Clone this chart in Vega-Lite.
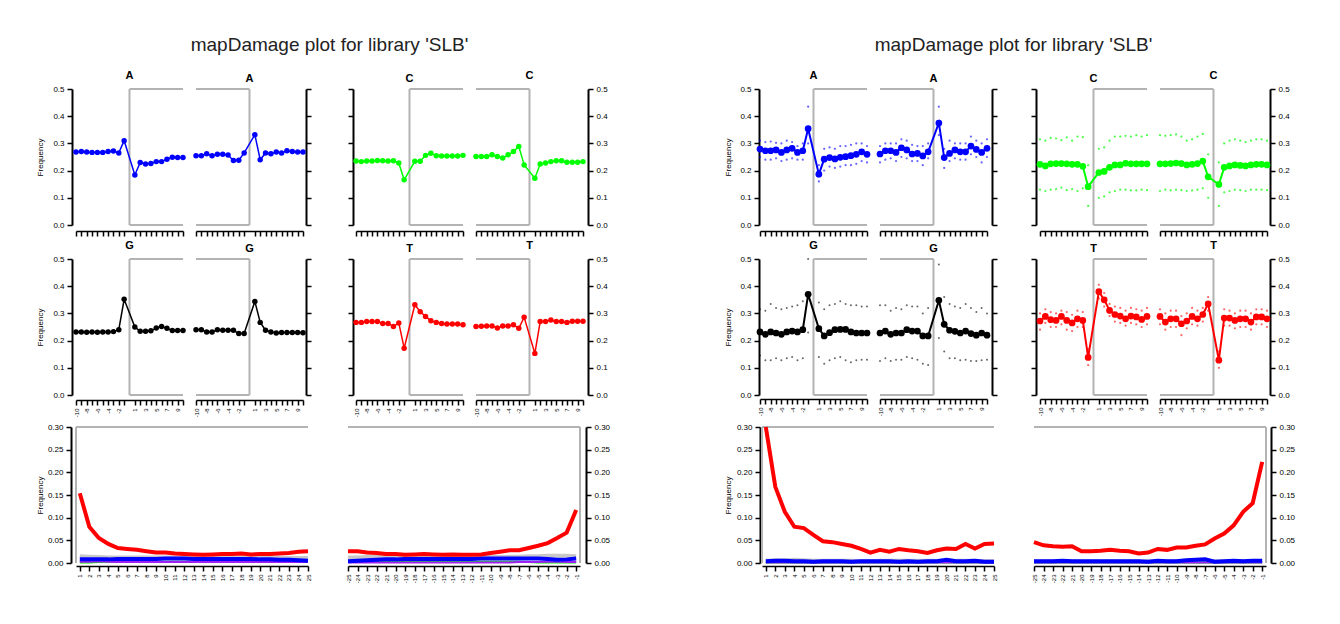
{
"$schema": "https://vega.github.io/schema/vega-lite/v6.json",
"background": "white",
"padding": {"left": 36, "top": 36, "right": 5, "bottom": 5},
"config": {
  "font": "Liberation Sans",
  "view": {"stroke": null},
  "title": {"fontSize": 11, "fontWeight": "bold", "offset": 4, "anchor": "middle", "frame": "group", "color": "#000000", "font": "Liberation Sans"},
  "axis": {"grid": false, "domainColor": "#000000", "tickColor": "#000000", "tickWidth": 1.5, "tickSize": 5, "labelColor": "#000000", "titleColor": "#000000", "titleFontWeight": "normal", "titleFontSize": 8, "labelFont": "Liberation Sans", "titleFont": "Liberation Sans", "labelOverlap": false, "labelFlush": false, "labelBound": false},
  "axisX": {"labelAngle": -90, "labelFontSize": 6, "domainWidth": 1.5, "labelPadding": 3},
  "axisY": {"labelFontSize": 8, "domainWidth": 2, "labelPadding": 3}
},
"datasets": {
  "compL": [
    {"e":5,"p":-10,"A":0.268,"C":0.235,"G":0.232,"T":0.267},
    {"e":5,"p":-9,"A":0.270,"C":0.233,"G":0.232,"T":0.267},
    {"e":5,"p":-8,"A":0.268,"C":0.235,"G":0.231,"T":0.270},
    {"e":5,"p":-7,"A":0.267,"C":0.235,"G":0.232,"T":0.270},
    {"e":5,"p":-6,"A":0.267,"C":0.237,"G":0.231,"T":0.270},
    {"e":5,"p":-5,"A":0.267,"C":0.236,"G":0.232,"T":0.263},
    {"e":5,"p":-4,"A":0.270,"C":0.235,"G":0.232,"T":0.263},
    {"e":5,"p":-3,"A":0.272,"C":0.236,"G":0.233,"T":0.252},
    {"e":5,"p":-2,"A":0.265,"C":0.228,"G":0.240,"T":0.265},
    {"e":5,"p":-1,"A":0.310,"C":0.166,"G":0.352,"T":0.172},
    {"e":5,"p":1,"A":0.184,"C":0.234,"G":0.250,"T":0.332},
    {"e":5,"p":2,"A":0.230,"C":0.234,"G":0.234,"T":0.306},
    {"e":5,"p":3,"A":0.224,"C":0.256,"G":0.234,"T":0.289},
    {"e":5,"p":4,"A":0.226,"C":0.264,"G":0.236,"T":0.273},
    {"e":5,"p":5,"A":0.233,"C":0.255,"G":0.246,"T":0.267},
    {"e":5,"p":6,"A":0.233,"C":0.254,"G":0.252,"T":0.263},
    {"e":5,"p":7,"A":0.242,"C":0.254,"G":0.245,"T":0.261},
    {"e":5,"p":8,"A":0.249,"C":0.254,"G":0.237,"T":0.261},
    {"e":5,"p":9,"A":0.248,"C":0.254,"G":0.237,"T":0.261},
    {"e":5,"p":10,"A":0.248,"C":0.256,"G":0.237,"T":0.258},
    {"e":3,"p":-10,"A":0.255,"C":0.252,"G":0.240,"T":0.252},
    {"e":3,"p":-9,"A":0.255,"C":0.252,"G":0.240,"T":0.253},
    {"e":3,"p":-8,"A":0.262,"C":0.252,"G":0.232,"T":0.254},
    {"e":3,"p":-7,"A":0.255,"C":0.258,"G":0.232,"T":0.254},
    {"e":3,"p":-6,"A":0.260,"C":0.252,"G":0.240,"T":0.246},
    {"e":3,"p":-5,"A":0.260,"C":0.246,"G":0.238,"T":0.254},
    {"e":3,"p":-4,"A":0.257,"C":0.258,"G":0.238,"T":0.254},
    {"e":3,"p":-3,"A":0.237,"C":0.270,"G":0.238,"T":0.258},
    {"e":3,"p":-2,"A":0.238,"C":0.289,"G":0.226,"T":0.245},
    {"e":3,"p":-1,"A":0.265,"C":0.221,"G":0.226,"T":0.286},
    {"e":3,"p":1,"A":0.332,"C":0.172,"G":0.344,"T":0.153},
    {"e":3,"p":2,"A":0.240,"C":0.224,"G":0.267,"T":0.270},
    {"e":3,"p":3,"A":0.265,"C":0.228,"G":0.238,"T":0.270},
    {"e":3,"p":4,"A":0.262,"C":0.233,"G":0.232,"T":0.276},
    {"e":3,"p":5,"A":0.268,"C":0.236,"G":0.228,"T":0.270},
    {"e":3,"p":6,"A":0.265,"C":0.236,"G":0.230,"T":0.270},
    {"e":3,"p":7,"A":0.273,"C":0.231,"G":0.230,"T":0.267},
    {"e":3,"p":8,"A":0.270,"C":0.231,"G":0.230,"T":0.271},
    {"e":3,"p":9,"A":0.268,"C":0.231,"G":0.230,"T":0.271},
    {"e":3,"p":10,"A":0.268,"C":0.233,"G":0.229,"T":0.271}
  ],
  "compR": [
    {"e":5,"p":-10,"A":0.279,"Al":0.250,"Ah":0.310,"C":0.223,"Cl":0.130,"Ch":0.315,"G":0.232,"Gl":0.145,"Gh":0.315,"T":0.272,"Tl":0.240,"Th":0.300},
    {"e":5,"p":-9,"A":0.273,"Al":0.240,"Ah":0.305,"C":0.217,"Cl":0.125,"Ch":0.310,"G":0.223,"Gl":0.128,"Gh":0.310,"T":0.289,"Tl":0.265,"Th":0.315},
    {"e":5,"p":-8,"A":0.273,"Al":0.240,"Ah":0.307,"C":0.225,"Cl":0.130,"Ch":0.320,"G":0.232,"Gl":0.128,"Gh":0.335,"T":0.277,"Tl":0.250,"Th":0.305},
    {"e":5,"p":-7,"A":0.276,"Al":0.245,"Ah":0.302,"C":0.226,"Cl":0.132,"Ch":0.318,"G":0.228,"Gl":0.135,"Gh":0.320,"T":0.274,"Tl":0.250,"Th":0.300},
    {"e":5,"p":-6,"A":0.267,"Al":0.235,"Ah":0.300,"C":0.226,"Cl":0.137,"Ch":0.312,"G":0.223,"Gl":0.128,"Gh":0.315,"T":0.289,"Tl":0.260,"Th":0.310},
    {"e":5,"p":-5,"A":0.276,"Al":0.240,"Ah":0.310,"C":0.225,"Cl":0.128,"Ch":0.322,"G":0.232,"Gl":0.135,"Gh":0.320,"T":0.274,"Tl":0.240,"Th":0.305},
    {"e":5,"p":-4,"A":0.282,"Al":0.245,"Ah":0.305,"C":0.223,"Cl":0.132,"Ch":0.310,"G":0.235,"Gl":0.140,"Gh":0.325,"T":0.265,"Tl":0.235,"Th":0.295},
    {"e":5,"p":-3,"A":0.267,"Al":0.240,"Ah":0.290,"C":0.223,"Cl":0.125,"Ch":0.325,"G":0.232,"Gl":0.128,"Gh":0.330,"T":0.280,"Tl":0.250,"Th":0.310},
    {"e":5,"p":-2,"A":0.273,"Al":0.240,"Ah":0.300,"C":0.216,"Cl":0.135,"Ch":0.323,"G":0.240,"Gl":0.135,"Gh":0.345,"T":0.274,"Tl":0.250,"Th":0.305},
    {"e":5,"p":-1,"A":0.354,"Al":0.300,"Ah":0.435,"C":0.141,"Cl":0.070,"Ch":0.220,"G":0.370,"Gl":0.230,"Gh":0.500,"T":0.138,"Tl":0.110,"Th":0.170},
    {"e":5,"p":1,"A":0.187,"Al":0.160,"Ah":0.220,"C":0.193,"Cl":0.100,"Ch":0.280,"G":0.244,"Gl":0.140,"Gh":0.340,"T":0.380,"Tl":0.355,"Th":0.405},
    {"e":5,"p":2,"A":0.242,"Al":0.200,"Ah":0.280,"C":0.197,"Cl":0.105,"Ch":0.285,"G":0.217,"Gl":0.115,"Gh":0.315,"T":0.350,"Tl":0.325,"Th":0.375},
    {"e":5,"p":3,"A":0.248,"Al":0.215,"Ah":0.285,"C":0.212,"Cl":0.120,"Ch":0.310,"G":0.229,"Gl":0.128,"Gh":0.330,"T":0.311,"Tl":0.290,"Th":0.335},
    {"e":5,"p":4,"A":0.243,"Al":0.210,"Ah":0.280,"C":0.221,"Cl":0.125,"Ch":0.325,"G":0.240,"Gl":0.135,"Gh":0.335,"T":0.296,"Tl":0.270,"Th":0.325},
    {"e":5,"p":5,"A":0.249,"Al":0.215,"Ah":0.290,"C":0.221,"Cl":0.130,"Ch":0.325,"G":0.241,"Gl":0.140,"Gh":0.345,"T":0.290,"Tl":0.265,"Th":0.320},
    {"e":5,"p":6,"A":0.251,"Al":0.220,"Ah":0.290,"C":0.227,"Cl":0.130,"Ch":0.328,"G":0.241,"Gl":0.128,"Gh":0.335,"T":0.280,"Tl":0.255,"Th":0.310},
    {"e":5,"p":7,"A":0.255,"Al":0.220,"Ah":0.295,"C":0.225,"Cl":0.127,"Ch":0.325,"G":0.232,"Gl":0.120,"Gh":0.330,"T":0.290,"Tl":0.265,"Th":0.320},
    {"e":5,"p":8,"A":0.260,"Al":0.225,"Ah":0.300,"C":0.225,"Cl":0.127,"Ch":0.330,"G":0.228,"Gl":0.128,"Gh":0.330,"T":0.287,"Tl":0.260,"Th":0.315},
    {"e":5,"p":9,"A":0.269,"Al":0.235,"Ah":0.300,"C":0.225,"Cl":0.130,"Ch":0.325,"G":0.228,"Gl":0.130,"Gh":0.325,"T":0.278,"Tl":0.250,"Th":0.310},
    {"e":5,"p":10,"A":0.260,"Al":0.230,"Ah":0.290,"C":0.225,"Cl":0.128,"Ch":0.330,"G":0.228,"Gl":0.130,"Gh":0.325,"T":0.289,"Tl":0.260,"Th":0.320},
    {"e":3,"p":-10,"A":0.261,"Al":0.230,"Ah":0.290,"C":0.225,"Cl":0.125,"Ch":0.330,"G":0.228,"Gl":0.125,"Gh":0.330,"T":0.289,"Tl":0.260,"Th":0.315},
    {"e":3,"p":-9,"A":0.273,"Al":0.240,"Ah":0.300,"C":0.225,"Cl":0.130,"Ch":0.328,"G":0.235,"Gl":0.135,"Gh":0.330,"T":0.268,"Tl":0.240,"Th":0.300},
    {"e":3,"p":-8,"A":0.273,"Al":0.245,"Ah":0.300,"C":0.226,"Cl":0.127,"Ch":0.330,"G":0.223,"Gl":0.125,"Gh":0.310,"T":0.280,"Tl":0.250,"Th":0.310},
    {"e":3,"p":-7,"A":0.267,"Al":0.235,"Ah":0.300,"C":0.228,"Cl":0.130,"Ch":0.333,"G":0.228,"Gl":0.130,"Gh":0.320,"T":0.280,"Tl":0.250,"Th":0.310},
    {"e":3,"p":-6,"A":0.284,"Al":0.250,"Ah":0.315,"C":0.226,"Cl":0.128,"Ch":0.325,"G":0.228,"Gl":0.130,"Gh":0.315,"T":0.262,"Tl":0.220,"Th":0.290},
    {"e":3,"p":-5,"A":0.276,"Al":0.245,"Ah":0.310,"C":0.221,"Cl":0.125,"Ch":0.310,"G":0.240,"Gl":0.140,"Gh":0.330,"T":0.272,"Tl":0.245,"Th":0.300},
    {"e":3,"p":-4,"A":0.261,"Al":0.235,"Ah":0.295,"C":0.223,"Cl":0.127,"Ch":0.315,"G":0.235,"Gl":0.135,"Gh":0.325,"T":0.289,"Tl":0.260,"Th":0.320},
    {"e":3,"p":-3,"A":0.263,"Al":0.235,"Ah":0.290,"C":0.226,"Cl":0.130,"Ch":0.325,"G":0.235,"Gl":0.130,"Gh":0.325,"T":0.280,"Tl":0.255,"Th":0.310},
    {"e":3,"p":-2,"A":0.254,"Al":0.220,"Ah":0.290,"C":0.235,"Cl":0.135,"Ch":0.335,"G":0.217,"Gl":0.115,"Gh":0.300,"T":0.296,"Tl":0.270,"Th":0.320},
    {"e":3,"p":-1,"A":0.269,"Al":0.245,"Ah":0.300,"C":0.177,"Cl":0.100,"Ch":0.260,"G":0.217,"Gl":0.110,"Gh":0.320,"T":0.335,"Tl":0.310,"Th":0.360},
    {"e":3,"p":1,"A":0.375,"Al":0.330,"Ah":0.435,"C":0.149,"Cl":0.070,"Ch":0.230,"G":0.348,"Gl":0.210,"Gh":0.480,"T":0.128,"Tl":0.100,"Th":0.160},
    {"e":3,"p":2,"A":0.248,"Al":0.210,"Ah":0.280,"C":0.212,"Cl":0.120,"Ch":0.300,"G":0.260,"Gl":0.160,"Gh":0.360,"T":0.283,"Tl":0.255,"Th":0.315},
    {"e":3,"p":3,"A":0.263,"Al":0.235,"Ah":0.310,"C":0.217,"Cl":0.125,"Ch":0.310,"G":0.238,"Gl":0.135,"Gh":0.335,"T":0.283,"Tl":0.255,"Th":0.310},
    {"e":3,"p":4,"A":0.276,"Al":0.245,"Ah":0.300,"C":0.221,"Cl":0.130,"Ch":0.315,"G":0.234,"Gl":0.135,"Gh":0.325,"T":0.274,"Tl":0.245,"Th":0.300},
    {"e":3,"p":5,"A":0.269,"Al":0.240,"Ah":0.300,"C":0.219,"Cl":0.128,"Ch":0.310,"G":0.228,"Gl":0.128,"Gh":0.320,"T":0.280,"Tl":0.250,"Th":0.310},
    {"e":3,"p":6,"A":0.269,"Al":0.240,"Ah":0.300,"C":0.217,"Cl":0.125,"Ch":0.305,"G":0.235,"Gl":0.130,"Gh":0.335,"T":0.280,"Tl":0.250,"Th":0.310},
    {"e":3,"p":7,"A":0.290,"Al":0.260,"Ah":0.325,"C":0.221,"Cl":0.130,"Ch":0.310,"G":0.226,"Gl":0.125,"Gh":0.320,"T":0.268,"Tl":0.240,"Th":0.300},
    {"e":3,"p":8,"A":0.278,"Al":0.250,"Ah":0.310,"C":0.223,"Cl":0.130,"Ch":0.315,"G":0.220,"Gl":0.125,"Gh":0.305,"T":0.287,"Tl":0.260,"Th":0.315},
    {"e":3,"p":9,"A":0.267,"Al":0.230,"Ah":0.300,"C":0.223,"Cl":0.130,"Ch":0.315,"G":0.228,"Gl":0.128,"Gh":0.320,"T":0.287,"Tl":0.260,"Th":0.315},
    {"e":3,"p":10,"A":0.282,"Al":0.250,"Ah":0.315,"C":0.221,"Cl":0.128,"Ch":0.310,"G":0.220,"Gl":0.130,"Gh":0.300,"T":0.280,"Tl":0.250,"Th":0.310}
  ],
  "misL": [
    {"e":5,"p":1,"r":0.154,"b":0.008,"o":0.015,"d":0.001,"i":0.003},
    {"e":5,"p":2,"r":0.080,"b":0.008,"o":0.014,"d":0.001,"i":0.003},
    {"e":5,"p":3,"r":0.055,"b":0.008,"o":0.013,"d":0.002,"i":0.004},
    {"e":5,"p":4,"r":0.042,"b":0.008,"o":0.012,"d":0.003,"i":0.003},
    {"e":5,"p":5,"r":0.033,"b":0.009,"o":0.012,"d":0.003,"i":0.002},
    {"e":5,"p":6,"r":0.031,"b":0.009,"o":0.012,"d":0.003,"i":0.002},
    {"e":5,"p":7,"r":0.029,"b":0.009,"o":0.012,"d":0.003,"i":0.002},
    {"e":5,"p":8,"r":0.026,"b":0.009,"o":0.012,"d":0.003,"i":0.002},
    {"e":5,"p":9,"r":0.023,"b":0.009,"o":0.012,"d":0.003,"i":0.002},
    {"e":5,"p":10,"r":0.023,"b":0.010,"o":0.012,"d":0.003,"i":0.002},
    {"e":5,"p":11,"r":0.021,"b":0.010,"o":0.012,"d":0.003,"i":0.002},
    {"e":5,"p":12,"r":0.020,"b":0.010,"o":0.012,"d":0.003,"i":0.002},
    {"e":5,"p":13,"r":0.019,"b":0.009,"o":0.012,"d":0.003,"i":0.002},
    {"e":5,"p":14,"r":0.018,"b":0.009,"o":0.012,"d":0.003,"i":0.002},
    {"e":5,"p":15,"r":0.019,"b":0.009,"o":0.012,"d":0.003,"i":0.002},
    {"e":5,"p":16,"r":0.020,"b":0.009,"o":0.012,"d":0.003,"i":0.002},
    {"e":5,"p":17,"r":0.020,"b":0.009,"o":0.012,"d":0.003,"i":0.002},
    {"e":5,"p":18,"r":0.021,"b":0.009,"o":0.012,"d":0.003,"i":0.002},
    {"e":5,"p":19,"r":0.019,"b":0.009,"o":0.012,"d":0.003,"i":0.002},
    {"e":5,"p":20,"r":0.020,"b":0.008,"o":0.012,"d":0.003,"i":0.002},
    {"e":5,"p":21,"r":0.020,"b":0.008,"o":0.011,"d":0.003,"i":0.002},
    {"e":5,"p":22,"r":0.021,"b":0.007,"o":0.011,"d":0.002,"i":0.002},
    {"e":5,"p":23,"r":0.022,"b":0.007,"o":0.011,"d":0.002,"i":0.002},
    {"e":5,"p":24,"r":0.025,"b":0.006,"o":0.011,"d":0.002,"i":0.002},
    {"e":5,"p":25,"r":0.026,"b":0.005,"o":0.011,"d":0.002,"i":0.002},
    {"e":3,"p":-25,"r":0.026,"b":0.004,"o":0.012,"d":0.002,"i":0.001},
    {"e":3,"p":-24,"r":0.026,"b":0.005,"o":0.012,"d":0.002,"i":0.001},
    {"e":3,"p":-23,"r":0.023,"b":0.006,"o":0.013,"d":0.003,"i":0.001},
    {"e":3,"p":-22,"r":0.022,"b":0.007,"o":0.013,"d":0.003,"i":0.001},
    {"e":3,"p":-21,"r":0.020,"b":0.008,"o":0.013,"d":0.003,"i":0.001},
    {"e":3,"p":-20,"r":0.020,"b":0.008,"o":0.013,"d":0.003,"i":0.001},
    {"e":3,"p":-19,"r":0.018,"b":0.009,"o":0.013,"d":0.003,"i":0.001},
    {"e":3,"p":-18,"r":0.019,"b":0.009,"o":0.013,"d":0.003,"i":0.001},
    {"e":3,"p":-17,"r":0.020,"b":0.009,"o":0.013,"d":0.003,"i":0.001},
    {"e":3,"p":-16,"r":0.019,"b":0.009,"o":0.013,"d":0.003,"i":0.001},
    {"e":3,"p":-15,"r":0.018,"b":0.009,"o":0.013,"d":0.003,"i":0.001},
    {"e":3,"p":-14,"r":0.019,"b":0.009,"o":0.013,"d":0.003,"i":0.001},
    {"e":3,"p":-13,"r":0.018,"b":0.009,"o":0.013,"d":0.003,"i":0.001},
    {"e":3,"p":-12,"r":0.018,"b":0.009,"o":0.013,"d":0.003,"i":0.001},
    {"e":3,"p":-11,"r":0.019,"b":0.010,"o":0.013,"d":0.003,"i":0.001},
    {"e":3,"p":-10,"r":0.022,"b":0.010,"o":0.013,"d":0.003,"i":0.001},
    {"e":3,"p":-9,"r":0.025,"b":0.010,"o":0.013,"d":0.003,"i":0.001},
    {"e":3,"p":-8,"r":0.028,"b":0.010,"o":0.014,"d":0.003,"i":0.001},
    {"e":3,"p":-7,"r":0.028,"b":0.010,"o":0.014,"d":0.003,"i":0.002},
    {"e":3,"p":-6,"r":0.033,"b":0.010,"o":0.015,"d":0.002,"i":0.002},
    {"e":3,"p":-5,"r":0.038,"b":0.010,"o":0.015,"d":0.001,"i":0.002},
    {"e":3,"p":-4,"r":0.044,"b":0.009,"o":0.016,"d":0.001,"i":0.003},
    {"e":3,"p":-3,"r":0.055,"b":0.007,"o":0.016,"d":0.001,"i":0.003},
    {"e":3,"p":-2,"r":0.067,"b":0.008,"o":0.016,"d":0.001,"i":0.002},
    {"e":3,"p":-1,"r":0.117,"b":0.010,"o":0.015,"d":0.001,"i":0.002}
  ],
  "misR": [
    {"e":5,"p":1,"r":0.300,"b":0.004,"o":0.005,"d":0.001,"i":0.001},
    {"e":5,"p":2,"r":0.168,"b":0.005,"o":0.006,"d":0.001,"i":0.001},
    {"e":5,"p":3,"r":0.113,"b":0.005,"o":0.006,"d":0.001,"i":0.001},
    {"e":5,"p":4,"r":0.080,"b":0.004,"o":0.007,"d":0.001,"i":0.001},
    {"e":5,"p":5,"r":0.077,"b":0.004,"o":0.006,"d":0.001,"i":0.001},
    {"e":5,"p":6,"r":0.062,"b":0.003,"o":0.005,"d":0.001,"i":0.001},
    {"e":5,"p":7,"r":0.048,"b":0.004,"o":0.005,"d":0.001,"i":0.001},
    {"e":5,"p":8,"r":0.046,"b":0.004,"o":0.005,"d":0.001,"i":0.001},
    {"e":5,"p":9,"r":0.042,"b":0.004,"o":0.005,"d":0.001,"i":0.001},
    {"e":5,"p":10,"r":0.038,"b":0.003,"o":0.005,"d":0.001,"i":0.001},
    {"e":5,"p":11,"r":0.031,"b":0.004,"o":0.004,"d":0.001,"i":0.001},
    {"e":5,"p":12,"r":0.023,"b":0.004,"o":0.004,"d":0.001,"i":0.001},
    {"e":5,"p":13,"r":0.029,"b":0.004,"o":0.005,"d":0.001,"i":0.001},
    {"e":5,"p":14,"r":0.025,"b":0.004,"o":0.005,"d":0.001,"i":0.001},
    {"e":5,"p":15,"r":0.031,"b":0.003,"o":0.005,"d":0.001,"i":0.001},
    {"e":5,"p":16,"r":0.028,"b":0.004,"o":0.005,"d":0.001,"i":0.001},
    {"e":5,"p":17,"r":0.026,"b":0.003,"o":0.005,"d":0.001,"i":0.001},
    {"e":5,"p":18,"r":0.022,"b":0.004,"o":0.005,"d":0.001,"i":0.001},
    {"e":5,"p":19,"r":0.028,"b":0.004,"o":0.005,"d":0.001,"i":0.001},
    {"e":5,"p":20,"r":0.032,"b":0.007,"o":0.005,"d":0.001,"i":0.001},
    {"e":5,"p":21,"r":0.031,"b":0.004,"o":0.005,"d":0.001,"i":0.001},
    {"e":5,"p":22,"r":0.042,"b":0.004,"o":0.005,"d":0.001,"i":0.001},
    {"e":5,"p":23,"r":0.032,"b":0.005,"o":0.005,"d":0.001,"i":0.001},
    {"e":5,"p":24,"r":0.042,"b":0.003,"o":0.004,"d":0.001,"i":0.001},
    {"e":5,"p":25,"r":0.043,"b":0.003,"o":0.004,"d":0.001,"i":0.001},
    {"e":3,"p":-25,"r":0.046,"b":0.004,"o":0.004,"d":0.001,"i":0.001},
    {"e":3,"p":-24,"r":0.039,"b":0.004,"o":0.004,"d":0.001,"i":0.001},
    {"e":3,"p":-23,"r":0.037,"b":0.004,"o":0.004,"d":0.001,"i":0.001},
    {"e":3,"p":-22,"r":0.036,"b":0.005,"o":0.004,"d":0.001,"i":0.001},
    {"e":3,"p":-21,"r":0.037,"b":0.004,"o":0.004,"d":0.001,"i":0.001},
    {"e":3,"p":-20,"r":0.026,"b":0.004,"o":0.004,"d":0.001,"i":0.001},
    {"e":3,"p":-19,"r":0.026,"b":0.004,"o":0.004,"d":0.001,"i":0.001},
    {"e":3,"p":-18,"r":0.027,"b":0.004,"o":0.004,"d":0.001,"i":0.001},
    {"e":3,"p":-17,"r":0.029,"b":0.004,"o":0.004,"d":0.001,"i":0.001},
    {"e":3,"p":-16,"r":0.027,"b":0.004,"o":0.004,"d":0.001,"i":0.001},
    {"e":3,"p":-15,"r":0.026,"b":0.004,"o":0.004,"d":0.001,"i":0.001},
    {"e":3,"p":-14,"r":0.021,"b":0.004,"o":0.004,"d":0.001,"i":0.001},
    {"e":3,"p":-13,"r":0.023,"b":0.003,"o":0.004,"d":0.001,"i":0.001},
    {"e":3,"p":-12,"r":0.031,"b":0.005,"o":0.004,"d":0.001,"i":0.001},
    {"e":3,"p":-11,"r":0.029,"b":0.004,"o":0.004,"d":0.001,"i":0.001},
    {"e":3,"p":-10,"r":0.034,"b":0.004,"o":0.004,"d":0.001,"i":0.001},
    {"e":3,"p":-9,"r":0.034,"b":0.006,"o":0.004,"d":0.001,"i":0.001},
    {"e":3,"p":-8,"r":0.038,"b":0.007,"o":0.004,"d":0.001,"i":0.001},
    {"e":3,"p":-7,"r":0.041,"b":0.008,"o":0.004,"d":0.001,"i":0.001},
    {"e":3,"p":-6,"r":0.054,"b":0.003,"o":0.004,"d":0.001,"i":0.001},
    {"e":3,"p":-5,"r":0.065,"b":0.004,"o":0.004,"d":0.001,"i":0.001},
    {"e":3,"p":-4,"r":0.083,"b":0.005,"o":0.004,"d":0.001,"i":0.001},
    {"e":3,"p":-3,"r":0.113,"b":0.004,"o":0.004,"d":0.001,"i":0.001},
    {"e":3,"p":-2,"r":0.132,"b":0.005,"o":0.004,"d":0.001,"i":0.001},
    {"e":3,"p":-1,"r":0.223,"b":0.005,"o":0.004,"d":0.001,"i":0.001}
  ]
},
"spacing": 2,
"bounds": "full",
"vconcat": [
{
"columns": 11,
"spacing": {"row": 34, "column": 13},
"bounds": "flush",
"align": "each",
"concat": [
  {"width":107,"height":136,"title":{"text":"A"},"data":{"name":"compL"},"transform":[{"filter":"datum.e == 5"}],"layer":[
    {"data":{"values":[{}]},"mark":{"type":"rule","color":"#b3b3b3","strokeWidth":2},"encoding":{"x":{"datum":0},"y":{"datum":0},"y2":{"datum":0.5}}},
    {"data":{"values":[{}]},"mark":{"type":"rule","color":"#b3b3b3","strokeWidth":2},"encoding":{"x":{"datum":0},"x2":{"datum":10},"y":{"datum":0.5}}},
    {"data":{"values":[{}]},"mark":{"type":"rule","color":"#b3b3b3","strokeWidth":2},"encoding":{"x":{"datum":0},"x2":{"datum":10},"y":{"datum":0}}},
    {"mark":{"type":"line","color":"#0000ff","strokeWidth":1.5},"encoding":{"x":{"field":"p","type":"quantitative","scale":{"domain":[-10,10],"nice":false,"zero":false},"axis":{"values":[-10,-9,-8,-7,-6,-5,-4,-3,-2,-1,1,2,3,4,5,6,7,8,9,10],"tickCount":100,"labels":false,"title":null,"offset":6}},"y":{"field":"A","type":"quantitative","scale":{"domain":[0,0.5],"nice":false,"zero":false},"axis":{"orient":"left","offset":4,"values":[0,0.1,0.2,0.3,0.4,0.5],"tickCount":100,"format":".1f","title":"Frequency","titlePadding":8}}}},
    {"mark":{"type":"circle","color":"#0000ff","size":30,"opacity":1},"encoding":{"x":{"field":"p","type":"quantitative"},"y":{"field":"A","type":"quantitative"}}}
  ]},
  {"width":107,"height":136,"title":{"text":"A"},"data":{"name":"compL"},"transform":[{"filter":"datum.e == 3"}],"layer":[
    {"data":{"values":[{}]},"mark":{"type":"rule","color":"#b3b3b3","strokeWidth":2},"encoding":{"x":{"datum":0},"y":{"datum":0},"y2":{"datum":0.5}}},
    {"data":{"values":[{}]},"mark":{"type":"rule","color":"#b3b3b3","strokeWidth":2},"encoding":{"x":{"datum":-10},"x2":{"datum":0},"y":{"datum":0.5}}},
    {"data":{"values":[{}]},"mark":{"type":"rule","color":"#b3b3b3","strokeWidth":2},"encoding":{"x":{"datum":-10},"x2":{"datum":0},"y":{"datum":0}}},
    {"mark":{"type":"line","color":"#0000ff","strokeWidth":1.5},"encoding":{"x":{"field":"p","type":"quantitative","scale":{"domain":[-10,10],"nice":false,"zero":false},"axis":{"values":[-10,-9,-8,-7,-6,-5,-4,-3,-2,-1,1,2,3,4,5,6,7,8,9,10],"tickCount":100,"labels":false,"title":null,"offset":6}},"y":{"field":"A","type":"quantitative","scale":{"domain":[0,0.5],"nice":false,"zero":false},"axis":{"orient":"right","offset":3,"values":[0,0.1,0.2,0.3,0.4,0.5],"tickCount":100,"labels":false,"title":null}}}},
    {"mark":{"type":"circle","color":"#0000ff","size":30,"opacity":1},"encoding":{"x":{"field":"p","type":"quantitative"},"y":{"field":"A","type":"quantitative"}}}
  ]},
  {"width":27,"height":136,"title":{"text":"mapDamage plot for library 'SLB'","fontSize":19,"fontWeight":"normal","offset":34,"color":"#222222"},"data":{"values":[{}]},"mark":{"type":"point","opacity":0},"encoding":{}},
  {"width":107,"height":136,"title":{"text":"C"},"data":{"name":"compL"},"transform":[{"filter":"datum.e == 5"}],"layer":[
    {"data":{"values":[{}]},"mark":{"type":"rule","color":"#b3b3b3","strokeWidth":2},"encoding":{"x":{"datum":0},"y":{"datum":0},"y2":{"datum":0.5}}},
    {"data":{"values":[{}]},"mark":{"type":"rule","color":"#b3b3b3","strokeWidth":2},"encoding":{"x":{"datum":0},"x2":{"datum":10},"y":{"datum":0.5}}},
    {"data":{"values":[{}]},"mark":{"type":"rule","color":"#b3b3b3","strokeWidth":2},"encoding":{"x":{"datum":0},"x2":{"datum":10},"y":{"datum":0}}},
    {"mark":{"type":"line","color":"#00ff00","strokeWidth":1.5},"encoding":{"x":{"field":"p","type":"quantitative","scale":{"domain":[-10,10],"nice":false,"zero":false},"axis":{"values":[-10,-9,-8,-7,-6,-5,-4,-3,-2,-1,1,2,3,4,5,6,7,8,9,10],"tickCount":100,"labels":false,"title":null,"offset":6}},"y":{"field":"C","type":"quantitative","scale":{"domain":[0,0.5],"nice":false,"zero":false},"axis":{"orient":"left","offset":3,"values":[0,0.1,0.2,0.3,0.4,0.5],"tickCount":100,"labels":false,"title":null}}}},
    {"mark":{"type":"circle","color":"#00ff00","size":30,"opacity":1},"encoding":{"x":{"field":"p","type":"quantitative"},"y":{"field":"C","type":"quantitative"}}}
  ]},
  {"width":107,"height":136,"title":{"text":"C"},"data":{"name":"compL"},"transform":[{"filter":"datum.e == 3"}],"layer":[
    {"data":{"values":[{}]},"mark":{"type":"rule","color":"#b3b3b3","strokeWidth":2},"encoding":{"x":{"datum":0},"y":{"datum":0},"y2":{"datum":0.5}}},
    {"data":{"values":[{}]},"mark":{"type":"rule","color":"#b3b3b3","strokeWidth":2},"encoding":{"x":{"datum":-10},"x2":{"datum":0},"y":{"datum":0.5}}},
    {"data":{"values":[{}]},"mark":{"type":"rule","color":"#b3b3b3","strokeWidth":2},"encoding":{"x":{"datum":-10},"x2":{"datum":0},"y":{"datum":0}}},
    {"mark":{"type":"line","color":"#00ff00","strokeWidth":1.5},"encoding":{"x":{"field":"p","type":"quantitative","scale":{"domain":[-10,10],"nice":false,"zero":false},"axis":{"values":[-10,-9,-8,-7,-6,-5,-4,-3,-2,-1,1,2,3,4,5,6,7,8,9,10],"tickCount":100,"labels":false,"title":null,"offset":6}},"y":{"field":"C","type":"quantitative","scale":{"domain":[0,0.5],"nice":false,"zero":false},"axis":{"orient":"right","offset":5,"values":[0,0.1,0.2,0.3,0.4,0.5],"tickCount":100,"format":".1f","title":null}}}},
    {"mark":{"type":"circle","color":"#00ff00","size":30,"opacity":1},"encoding":{"x":{"field":"p","type":"quantitative"},"y":{"field":"C","type":"quantitative"}}}
  ]},
  {"width":151,"height":136,"data":{"values":[{}]},"mark":{"type":"point","opacity":0},"encoding":{}},
  {"width":107,"height":136,"title":{"text":"A"},"data":{"name":"compR"},"transform":[{"filter":"datum.e == 5"}],"layer":[
    {"data":{"values":[{}]},"mark":{"type":"rule","color":"#b3b3b3","strokeWidth":2},"encoding":{"x":{"datum":0},"y":{"datum":0},"y2":{"datum":0.5}}},
    {"data":{"values":[{}]},"mark":{"type":"rule","color":"#b3b3b3","strokeWidth":2},"encoding":{"x":{"datum":0},"x2":{"datum":10},"y":{"datum":0.5}}},
    {"data":{"values":[{}]},"mark":{"type":"rule","color":"#b3b3b3","strokeWidth":2},"encoding":{"x":{"datum":0},"x2":{"datum":10},"y":{"datum":0}}},
    {"mark":{"type":"circle","color":"#0000ff","size":5,"opacity":0.6},"encoding":{"x":{"field":"p","type":"quantitative"},"y":{"field":"Al","type":"quantitative"}}},
    {"mark":{"type":"circle","color":"#0000ff","size":5,"opacity":0.6},"encoding":{"x":{"field":"p","type":"quantitative"},"y":{"field":"Ah","type":"quantitative"}}},
    {"mark":{"type":"line","color":"#0000ff","strokeWidth":2},"encoding":{"x":{"field":"p","type":"quantitative","scale":{"domain":[-10,10],"nice":false,"zero":false},"axis":{"values":[-10,-9,-8,-7,-6,-5,-4,-3,-2,-1,1,2,3,4,5,6,7,8,9,10],"tickCount":100,"labels":false,"title":null,"offset":6}},"y":{"field":"A","type":"quantitative","scale":{"domain":[0,0.5],"nice":false,"zero":false},"axis":{"orient":"left","offset":1,"values":[0,0.1,0.2,0.3,0.4,0.5],"tickCount":100,"format":".1f","title":"Frequency","titlePadding":7}}}},
    {"mark":{"type":"circle","color":"#0000ff","size":45,"opacity":1},"encoding":{"x":{"field":"p","type":"quantitative"},"y":{"field":"A","type":"quantitative"}}}
  ]},
  {"width":107,"height":136,"title":{"text":"A"},"data":{"name":"compR"},"transform":[{"filter":"datum.e == 3"}],"layer":[
    {"data":{"values":[{}]},"mark":{"type":"rule","color":"#b3b3b3","strokeWidth":2},"encoding":{"x":{"datum":0},"y":{"datum":0},"y2":{"datum":0.5}}},
    {"data":{"values":[{}]},"mark":{"type":"rule","color":"#b3b3b3","strokeWidth":2},"encoding":{"x":{"datum":-10},"x2":{"datum":0},"y":{"datum":0.5}}},
    {"data":{"values":[{}]},"mark":{"type":"rule","color":"#b3b3b3","strokeWidth":2},"encoding":{"x":{"datum":-10},"x2":{"datum":0},"y":{"datum":0}}},
    {"mark":{"type":"circle","color":"#0000ff","size":5,"opacity":0.6},"encoding":{"x":{"field":"p","type":"quantitative"},"y":{"field":"Al","type":"quantitative"}}},
    {"mark":{"type":"circle","color":"#0000ff","size":5,"opacity":0.6},"encoding":{"x":{"field":"p","type":"quantitative"},"y":{"field":"Ah","type":"quantitative"}}},
    {"mark":{"type":"line","color":"#0000ff","strokeWidth":2},"encoding":{"x":{"field":"p","type":"quantitative","scale":{"domain":[-10,10],"nice":false,"zero":false},"axis":{"values":[-10,-9,-8,-7,-6,-5,-4,-3,-2,-1,1,2,3,4,5,6,7,8,9,10],"tickCount":100,"labels":false,"title":null,"offset":6}},"y":{"field":"A","type":"quantitative","scale":{"domain":[0,0.5],"nice":false,"zero":false},"axis":{"orient":"right","offset":5,"values":[0,0.1,0.2,0.3,0.4,0.5],"tickCount":100,"labels":false,"title":null}}}},
    {"mark":{"type":"circle","color":"#0000ff","size":45,"opacity":1},"encoding":{"x":{"field":"p","type":"quantitative"},"y":{"field":"A","type":"quantitative"}}}
  ]},
  {"width":27,"height":136,"title":{"text":"mapDamage plot for library 'SLB'","fontSize":19,"fontWeight":"normal","offset":34,"color":"#222222"},"data":{"values":[{}]},"mark":{"type":"point","opacity":0},"encoding":{}},
  {"width":107,"height":136,"title":{"text":"C"},"data":{"name":"compR"},"transform":[{"filter":"datum.e == 5"}],"layer":[
    {"data":{"values":[{}]},"mark":{"type":"rule","color":"#b3b3b3","strokeWidth":2},"encoding":{"x":{"datum":0},"y":{"datum":0},"y2":{"datum":0.5}}},
    {"data":{"values":[{}]},"mark":{"type":"rule","color":"#b3b3b3","strokeWidth":2},"encoding":{"x":{"datum":0},"x2":{"datum":10},"y":{"datum":0.5}}},
    {"data":{"values":[{}]},"mark":{"type":"rule","color":"#b3b3b3","strokeWidth":2},"encoding":{"x":{"datum":0},"x2":{"datum":10},"y":{"datum":0}}},
    {"mark":{"type":"circle","color":"#00ff00","size":5,"opacity":0.7},"encoding":{"x":{"field":"p","type":"quantitative"},"y":{"field":"Cl","type":"quantitative"}}},
    {"mark":{"type":"circle","color":"#00ff00","size":5,"opacity":0.7},"encoding":{"x":{"field":"p","type":"quantitative"},"y":{"field":"Ch","type":"quantitative"}}},
    {"mark":{"type":"line","color":"#00ff00","strokeWidth":2},"encoding":{"x":{"field":"p","type":"quantitative","scale":{"domain":[-10,10],"nice":false,"zero":false},"axis":{"values":[-10,-9,-8,-7,-6,-5,-4,-3,-2,-1,1,2,3,4,5,6,7,8,9,10],"tickCount":100,"labels":false,"title":null,"offset":6}},"y":{"field":"C","type":"quantitative","scale":{"domain":[0,0.5],"nice":false,"zero":false},"axis":{"orient":"left","offset":4,"values":[0,0.1,0.2,0.3,0.4,0.5],"tickCount":100,"labels":false,"title":null}}}},
    {"mark":{"type":"circle","color":"#00ff00","size":45,"opacity":1},"encoding":{"x":{"field":"p","type":"quantitative"},"y":{"field":"C","type":"quantitative"}}}
  ]},
  {"width":107,"height":136,"title":{"text":"C"},"data":{"name":"compR"},"transform":[{"filter":"datum.e == 3"}],"layer":[
    {"data":{"values":[{}]},"mark":{"type":"rule","color":"#b3b3b3","strokeWidth":2},"encoding":{"x":{"datum":0},"y":{"datum":0},"y2":{"datum":0.5}}},
    {"data":{"values":[{}]},"mark":{"type":"rule","color":"#b3b3b3","strokeWidth":2},"encoding":{"x":{"datum":-10},"x2":{"datum":0},"y":{"datum":0.5}}},
    {"data":{"values":[{}]},"mark":{"type":"rule","color":"#b3b3b3","strokeWidth":2},"encoding":{"x":{"datum":-10},"x2":{"datum":0},"y":{"datum":0}}},
    {"mark":{"type":"circle","color":"#00ff00","size":5,"opacity":0.7},"encoding":{"x":{"field":"p","type":"quantitative"},"y":{"field":"Cl","type":"quantitative"}}},
    {"mark":{"type":"circle","color":"#00ff00","size":5,"opacity":0.7},"encoding":{"x":{"field":"p","type":"quantitative"},"y":{"field":"Ch","type":"quantitative"}}},
    {"mark":{"type":"line","color":"#00ff00","strokeWidth":2},"encoding":{"x":{"field":"p","type":"quantitative","scale":{"domain":[-10,10],"nice":false,"zero":false},"axis":{"values":[-10,-9,-8,-7,-6,-5,-4,-3,-2,-1,1,2,3,4,5,6,7,8,9,10],"tickCount":100,"labels":false,"title":null,"offset":6}},"y":{"field":"C","type":"quantitative","scale":{"domain":[0,0.5],"nice":false,"zero":false},"axis":{"orient":"right","offset":3,"values":[0,0.1,0.2,0.3,0.4,0.5],"tickCount":100,"format":".1f","title":null}}}},
    {"mark":{"type":"circle","color":"#00ff00","size":45,"opacity":1},"encoding":{"x":{"field":"p","type":"quantitative"},"y":{"field":"C","type":"quantitative"}}}
  ]},

  {"width":107,"height":136,"title":{"text":"G"},"data":{"name":"compL"},"transform":[{"filter":"datum.e == 5"}],"layer":[
    {"data":{"values":[{}]},"mark":{"type":"rule","color":"#b3b3b3","strokeWidth":2},"encoding":{"x":{"datum":0},"y":{"datum":0},"y2":{"datum":0.5}}},
    {"data":{"values":[{}]},"mark":{"type":"rule","color":"#b3b3b3","strokeWidth":2},"encoding":{"x":{"datum":0},"x2":{"datum":10},"y":{"datum":0.5}}},
    {"data":{"values":[{}]},"mark":{"type":"rule","color":"#b3b3b3","strokeWidth":2},"encoding":{"x":{"datum":0},"x2":{"datum":10},"y":{"datum":0}}},
    {"mark":{"type":"line","color":"#000000","strokeWidth":1.5},"encoding":{"x":{"field":"p","type":"quantitative","scale":{"domain":[-10,10],"nice":false,"zero":false},"axis":{"values":[-10,-9,-8,-7,-6,-5,-4,-3,-2,-1,1,2,3,4,5,6,7,8,9,10],"tickCount":100,"labelExpr":"indexof([-10,-8,-6,-4,-2,1,3,5,7,9], datum.value) >= 0 ? '' + datum.value : ''","title":null,"offset":5}},"y":{"field":"G","type":"quantitative","scale":{"domain":[0,0.5],"nice":false,"zero":false},"axis":{"orient":"left","offset":4,"values":[0,0.1,0.2,0.3,0.4,0.5],"tickCount":100,"format":".1f","title":"Frequency","titlePadding":8}}}},
    {"mark":{"type":"circle","color":"#000000","size":30,"opacity":1},"encoding":{"x":{"field":"p","type":"quantitative"},"y":{"field":"G","type":"quantitative"}}}
  ]},
  {"width":107,"height":136,"title":{"text":"G"},"data":{"name":"compL"},"transform":[{"filter":"datum.e == 3"}],"layer":[
    {"data":{"values":[{}]},"mark":{"type":"rule","color":"#b3b3b3","strokeWidth":2},"encoding":{"x":{"datum":0},"y":{"datum":0},"y2":{"datum":0.5}}},
    {"data":{"values":[{}]},"mark":{"type":"rule","color":"#b3b3b3","strokeWidth":2},"encoding":{"x":{"datum":-10},"x2":{"datum":0},"y":{"datum":0.5}}},
    {"data":{"values":[{}]},"mark":{"type":"rule","color":"#b3b3b3","strokeWidth":2},"encoding":{"x":{"datum":-10},"x2":{"datum":0},"y":{"datum":0}}},
    {"mark":{"type":"line","color":"#000000","strokeWidth":1.5},"encoding":{"x":{"field":"p","type":"quantitative","scale":{"domain":[-10,10],"nice":false,"zero":false},"axis":{"values":[-10,-9,-8,-7,-6,-5,-4,-3,-2,-1,1,2,3,4,5,6,7,8,9,10],"tickCount":100,"labelExpr":"indexof([-10,-8,-6,-4,-2,1,3,5,7,9], datum.value) >= 0 ? '' + datum.value : ''","title":null,"offset":5}},"y":{"field":"G","type":"quantitative","scale":{"domain":[0,0.5],"nice":false,"zero":false},"axis":{"orient":"right","offset":3,"values":[0,0.1,0.2,0.3,0.4,0.5],"tickCount":100,"labels":false,"title":null}}}},
    {"mark":{"type":"circle","color":"#000000","size":30,"opacity":1},"encoding":{"x":{"field":"p","type":"quantitative"},"y":{"field":"G","type":"quantitative"}}}
  ]},
  {"width":27,"height":136,"data":{"values":[{}]},"mark":{"type":"point","opacity":0},"encoding":{}},
  {"width":107,"height":136,"title":{"text":"T"},"data":{"name":"compL"},"transform":[{"filter":"datum.e == 5"}],"layer":[
    {"data":{"values":[{}]},"mark":{"type":"rule","color":"#b3b3b3","strokeWidth":2},"encoding":{"x":{"datum":0},"y":{"datum":0},"y2":{"datum":0.5}}},
    {"data":{"values":[{}]},"mark":{"type":"rule","color":"#b3b3b3","strokeWidth":2},"encoding":{"x":{"datum":0},"x2":{"datum":10},"y":{"datum":0.5}}},
    {"data":{"values":[{}]},"mark":{"type":"rule","color":"#b3b3b3","strokeWidth":2},"encoding":{"x":{"datum":0},"x2":{"datum":10},"y":{"datum":0}}},
    {"mark":{"type":"line","color":"#ff0000","strokeWidth":1.5},"encoding":{"x":{"field":"p","type":"quantitative","scale":{"domain":[-10,10],"nice":false,"zero":false},"axis":{"values":[-10,-9,-8,-7,-6,-5,-4,-3,-2,-1,1,2,3,4,5,6,7,8,9,10],"tickCount":100,"labelExpr":"indexof([-10,-8,-6,-4,-2,1,3,5,7,9], datum.value) >= 0 ? '' + datum.value : ''","title":null,"offset":5}},"y":{"field":"T","type":"quantitative","scale":{"domain":[0,0.5],"nice":false,"zero":false},"axis":{"orient":"left","offset":3,"values":[0,0.1,0.2,0.3,0.4,0.5],"tickCount":100,"labels":false,"title":null}}}},
    {"mark":{"type":"circle","color":"#ff0000","size":30,"opacity":1},"encoding":{"x":{"field":"p","type":"quantitative"},"y":{"field":"T","type":"quantitative"}}}
  ]},
  {"width":107,"height":136,"title":{"text":"T"},"data":{"name":"compL"},"transform":[{"filter":"datum.e == 3"}],"layer":[
    {"data":{"values":[{}]},"mark":{"type":"rule","color":"#b3b3b3","strokeWidth":2},"encoding":{"x":{"datum":0},"y":{"datum":0},"y2":{"datum":0.5}}},
    {"data":{"values":[{}]},"mark":{"type":"rule","color":"#b3b3b3","strokeWidth":2},"encoding":{"x":{"datum":-10},"x2":{"datum":0},"y":{"datum":0.5}}},
    {"data":{"values":[{}]},"mark":{"type":"rule","color":"#b3b3b3","strokeWidth":2},"encoding":{"x":{"datum":-10},"x2":{"datum":0},"y":{"datum":0}}},
    {"mark":{"type":"line","color":"#ff0000","strokeWidth":1.5},"encoding":{"x":{"field":"p","type":"quantitative","scale":{"domain":[-10,10],"nice":false,"zero":false},"axis":{"values":[-10,-9,-8,-7,-6,-5,-4,-3,-2,-1,1,2,3,4,5,6,7,8,9,10],"tickCount":100,"labelExpr":"indexof([-10,-8,-6,-4,-2,1,3,5,7,9], datum.value) >= 0 ? '' + datum.value : ''","title":null,"offset":5}},"y":{"field":"T","type":"quantitative","scale":{"domain":[0,0.5],"nice":false,"zero":false},"axis":{"orient":"right","offset":5,"values":[0,0.1,0.2,0.3,0.4,0.5],"tickCount":100,"format":".1f","title":null}}}},
    {"mark":{"type":"circle","color":"#ff0000","size":30,"opacity":1},"encoding":{"x":{"field":"p","type":"quantitative"},"y":{"field":"T","type":"quantitative"}}}
  ]},
  {"width":151,"height":136,"data":{"values":[{}]},"mark":{"type":"point","opacity":0},"encoding":{}},
  {"width":107,"height":136,"title":{"text":"G"},"data":{"name":"compR"},"transform":[{"filter":"datum.e == 5"}],"layer":[
    {"data":{"values":[{}]},"mark":{"type":"rule","color":"#b3b3b3","strokeWidth":2},"encoding":{"x":{"datum":0},"y":{"datum":0},"y2":{"datum":0.5}}},
    {"data":{"values":[{}]},"mark":{"type":"rule","color":"#b3b3b3","strokeWidth":2},"encoding":{"x":{"datum":0},"x2":{"datum":10},"y":{"datum":0.5}}},
    {"data":{"values":[{}]},"mark":{"type":"rule","color":"#b3b3b3","strokeWidth":2},"encoding":{"x":{"datum":0},"x2":{"datum":10},"y":{"datum":0}}},
    {"mark":{"type":"circle","color":"#000000","size":4,"opacity":0.6},"encoding":{"x":{"field":"p","type":"quantitative"},"y":{"field":"Gl","type":"quantitative"}}},
    {"mark":{"type":"circle","color":"#000000","size":4,"opacity":0.6},"encoding":{"x":{"field":"p","type":"quantitative"},"y":{"field":"Gh","type":"quantitative"}}},
    {"mark":{"type":"line","color":"#000000","strokeWidth":2},"encoding":{"x":{"field":"p","type":"quantitative","scale":{"domain":[-10,10],"nice":false,"zero":false},"axis":{"values":[-10,-9,-8,-7,-6,-5,-4,-3,-2,-1,1,2,3,4,5,6,7,8,9,10],"tickCount":100,"labelExpr":"indexof([-10,-8,-6,-4,-2,1,3,5,7,9], datum.value) >= 0 ? '' + datum.value : ''","title":null,"offset":4}},"y":{"field":"G","type":"quantitative","scale":{"domain":[0,0.5],"nice":false,"zero":false},"axis":{"orient":"left","offset":1,"values":[0,0.1,0.2,0.3,0.4,0.5],"tickCount":100,"format":".1f","title":"Frequency","titlePadding":7}}}},
    {"mark":{"type":"circle","color":"#000000","size":45,"opacity":1},"encoding":{"x":{"field":"p","type":"quantitative"},"y":{"field":"G","type":"quantitative"}}}
  ]},
  {"width":107,"height":136,"title":{"text":"G"},"data":{"name":"compR"},"transform":[{"filter":"datum.e == 3"}],"layer":[
    {"data":{"values":[{}]},"mark":{"type":"rule","color":"#b3b3b3","strokeWidth":2},"encoding":{"x":{"datum":0},"y":{"datum":0},"y2":{"datum":0.5}}},
    {"data":{"values":[{}]},"mark":{"type":"rule","color":"#b3b3b3","strokeWidth":2},"encoding":{"x":{"datum":-10},"x2":{"datum":0},"y":{"datum":0.5}}},
    {"data":{"values":[{}]},"mark":{"type":"rule","color":"#b3b3b3","strokeWidth":2},"encoding":{"x":{"datum":-10},"x2":{"datum":0},"y":{"datum":0}}},
    {"mark":{"type":"circle","color":"#000000","size":4,"opacity":0.6},"encoding":{"x":{"field":"p","type":"quantitative"},"y":{"field":"Gl","type":"quantitative"}}},
    {"mark":{"type":"circle","color":"#000000","size":4,"opacity":0.6},"encoding":{"x":{"field":"p","type":"quantitative"},"y":{"field":"Gh","type":"quantitative"}}},
    {"mark":{"type":"line","color":"#000000","strokeWidth":2},"encoding":{"x":{"field":"p","type":"quantitative","scale":{"domain":[-10,10],"nice":false,"zero":false},"axis":{"values":[-10,-9,-8,-7,-6,-5,-4,-3,-2,-1,1,2,3,4,5,6,7,8,9,10],"tickCount":100,"labelExpr":"indexof([-10,-8,-6,-4,-2,1,3,5,7,9], datum.value) >= 0 ? '' + datum.value : ''","title":null,"offset":4}},"y":{"field":"G","type":"quantitative","scale":{"domain":[0,0.5],"nice":false,"zero":false},"axis":{"orient":"right","offset":5,"values":[0,0.1,0.2,0.3,0.4,0.5],"tickCount":100,"labels":false,"title":null}}}},
    {"mark":{"type":"circle","color":"#000000","size":45,"opacity":1},"encoding":{"x":{"field":"p","type":"quantitative"},"y":{"field":"G","type":"quantitative"}}}
  ]},
  {"width":27,"height":136,"data":{"values":[{}]},"mark":{"type":"point","opacity":0},"encoding":{}},
  {"width":107,"height":136,"title":{"text":"T"},"data":{"name":"compR"},"transform":[{"filter":"datum.e == 5"}],"layer":[
    {"data":{"values":[{}]},"mark":{"type":"rule","color":"#b3b3b3","strokeWidth":2},"encoding":{"x":{"datum":0},"y":{"datum":0},"y2":{"datum":0.5}}},
    {"data":{"values":[{}]},"mark":{"type":"rule","color":"#b3b3b3","strokeWidth":2},"encoding":{"x":{"datum":0},"x2":{"datum":10},"y":{"datum":0.5}}},
    {"data":{"values":[{}]},"mark":{"type":"rule","color":"#b3b3b3","strokeWidth":2},"encoding":{"x":{"datum":0},"x2":{"datum":10},"y":{"datum":0}}},
    {"mark":{"type":"circle","color":"#ff0000","size":5,"opacity":0.6},"encoding":{"x":{"field":"p","type":"quantitative"},"y":{"field":"Tl","type":"quantitative"}}},
    {"mark":{"type":"circle","color":"#ff0000","size":5,"opacity":0.6},"encoding":{"x":{"field":"p","type":"quantitative"},"y":{"field":"Th","type":"quantitative"}}},
    {"mark":{"type":"line","color":"#ff0000","strokeWidth":2},"encoding":{"x":{"field":"p","type":"quantitative","scale":{"domain":[-10,10],"nice":false,"zero":false},"axis":{"values":[-10,-9,-8,-7,-6,-5,-4,-3,-2,-1,1,2,3,4,5,6,7,8,9,10],"tickCount":100,"labelExpr":"indexof([-10,-8,-6,-4,-2,1,3,5,7,9], datum.value) >= 0 ? '' + datum.value : ''","title":null,"offset":4}},"y":{"field":"T","type":"quantitative","scale":{"domain":[0,0.5],"nice":false,"zero":false},"axis":{"orient":"left","offset":4,"values":[0,0.1,0.2,0.3,0.4,0.5],"tickCount":100,"labels":false,"title":null}}}},
    {"mark":{"type":"circle","color":"#ff0000","size":45,"opacity":1},"encoding":{"x":{"field":"p","type":"quantitative"},"y":{"field":"T","type":"quantitative"}}}
  ]},
  {"width":107,"height":136,"title":{"text":"T"},"data":{"name":"compR"},"transform":[{"filter":"datum.e == 3"}],"layer":[
    {"data":{"values":[{}]},"mark":{"type":"rule","color":"#b3b3b3","strokeWidth":2},"encoding":{"x":{"datum":0},"y":{"datum":0},"y2":{"datum":0.5}}},
    {"data":{"values":[{}]},"mark":{"type":"rule","color":"#b3b3b3","strokeWidth":2},"encoding":{"x":{"datum":-10},"x2":{"datum":0},"y":{"datum":0.5}}},
    {"data":{"values":[{}]},"mark":{"type":"rule","color":"#b3b3b3","strokeWidth":2},"encoding":{"x":{"datum":-10},"x2":{"datum":0},"y":{"datum":0}}},
    {"mark":{"type":"circle","color":"#ff0000","size":5,"opacity":0.6},"encoding":{"x":{"field":"p","type":"quantitative"},"y":{"field":"Tl","type":"quantitative"}}},
    {"mark":{"type":"circle","color":"#ff0000","size":5,"opacity":0.6},"encoding":{"x":{"field":"p","type":"quantitative"},"y":{"field":"Th","type":"quantitative"}}},
    {"mark":{"type":"line","color":"#ff0000","strokeWidth":2},"encoding":{"x":{"field":"p","type":"quantitative","scale":{"domain":[-10,10],"nice":false,"zero":false},"axis":{"values":[-10,-9,-8,-7,-6,-5,-4,-3,-2,-1,1,2,3,4,5,6,7,8,9,10],"tickCount":100,"labelExpr":"indexof([-10,-8,-6,-4,-2,1,3,5,7,9], datum.value) >= 0 ? '' + datum.value : ''","title":null,"offset":4}},"y":{"field":"T","type":"quantitative","scale":{"domain":[0,0.5],"nice":false,"zero":false},"axis":{"orient":"right","offset":3,"values":[0,0.1,0.2,0.3,0.4,0.5],"tickCount":100,"format":".1f","title":null}}}},
    {"mark":{"type":"circle","color":"#ff0000","size":45,"opacity":1},"encoding":{"x":{"field":"p","type":"quantitative"},"y":{"field":"T","type":"quantitative"}}}
  ]}
]
},
{
"spacing": 40,
"bounds": "flush",
"hconcat": [
  {"width":232,"height":136,"data":{"name":"misL"},"transform":[{"filter":"datum.e == 5"}],"layer":[
    {"data":{"values":[{}]},"mark":{"type":"rule","color":"#b3b3b3","strokeWidth":2},"encoding":{"x":{"datum":0.6},"y":{"datum":0},"y2":{"datum":0.3}}},
    {"data":{"values":[{}]},"mark":{"type":"rule","color":"#b3b3b3","strokeWidth":2},"encoding":{"x":{"datum":0.6},"x2":{"datum":25},"y":{"datum":0.3}}},
    {"mark":{"type":"line","color":"#c8c8c8","strokeWidth":4},"encoding":{"x":{"field":"p","type":"quantitative"},"y":{"field":"o","type":"quantitative"}}},
    {"mark":{"type":"line","color":"#00ee00","strokeWidth":2},"encoding":{"x":{"field":"p","type":"quantitative"},"y":{"field":"d","type":"quantitative"}}},
    {"mark":{"type":"line","color":"#a020f0","strokeWidth":2},"encoding":{"x":{"field":"p","type":"quantitative"},"y":{"field":"i","type":"quantitative"}}},
    {"mark":{"type":"line","color":"#0000ff","strokeWidth":4},"encoding":{"x":{"field":"p","type":"quantitative"},"y":{"field":"b","type":"quantitative"}}},
    {"mark":{"type":"line","color":"#ff0000","strokeWidth":4},"encoding":{"x":{"field":"p","type":"quantitative","scale":{"domain":[0.6,25],"nice":false,"zero":false},"axis":{"values":[1,2,3,4,5,6,7,8,9,10,11,12,13,14,15,16,17,18,19,20,21,22,23,24,25],"tickCount":100,"labelExpr":"'' + datum.value","title":null,"offset":3}},"y":{"field":"r","type":"quantitative","scale":{"domain":[0,0.3],"nice":false,"zero":false},"axis":{"orient":"left","offset":5,"values":[0,0.05,0.1,0.15,0.2,0.25,0.3],"tickCount":100,"format":".2f","title":"Frequency","titlePadding":3}}}}
  ]},
  {"width":232,"height":136,"data":{"name":"misL"},"transform":[{"filter":"datum.e == 3"}],"layer":[
    {"data":{"values":[{}]},"mark":{"type":"rule","color":"#b3b3b3","strokeWidth":2},"encoding":{"x":{"datum":-0.6},"y":{"datum":0},"y2":{"datum":0.3}}},
    {"data":{"values":[{}]},"mark":{"type":"rule","color":"#b3b3b3","strokeWidth":2},"encoding":{"x":{"datum":-25},"x2":{"datum":-0.6},"y":{"datum":0.3}}},
    {"mark":{"type":"line","color":"#c8c8c8","strokeWidth":4},"encoding":{"x":{"field":"p","type":"quantitative"},"y":{"field":"o","type":"quantitative"}}},
    {"mark":{"type":"line","color":"#00ee00","strokeWidth":2},"encoding":{"x":{"field":"p","type":"quantitative"},"y":{"field":"d","type":"quantitative"}}},
    {"mark":{"type":"line","color":"#a020f0","strokeWidth":2},"encoding":{"x":{"field":"p","type":"quantitative"},"y":{"field":"i","type":"quantitative"}}},
    {"mark":{"type":"line","color":"#0000ff","strokeWidth":4},"encoding":{"x":{"field":"p","type":"quantitative"},"y":{"field":"b","type":"quantitative"}}},
    {"mark":{"type":"line","color":"#ff0000","strokeWidth":4},"encoding":{"x":{"field":"p","type":"quantitative","scale":{"domain":[-25,-0.6],"nice":false,"zero":false},"axis":{"values":[-25,-24,-23,-22,-21,-20,-19,-18,-17,-16,-15,-14,-13,-12,-11,-10,-9,-8,-7,-6,-5,-4,-3,-2,-1],"tickCount":100,"labelExpr":"'' + datum.value","title":null,"offset":3}},"y":{"field":"r","type":"quantitative","scale":{"domain":[0,0.3],"nice":false,"zero":false},"axis":{"orient":"right","offset":6,"values":[0,0.05,0.1,0.15,0.2,0.25,0.3],"tickCount":100,"format":".2f","title":null}}}}
  ]},
  {"width":102,"height":136,"data":{"values":[{}]},"mark":{"type":"point","opacity":0},"encoding":{}},
  {"width":232,"height":136,"data":{"name":"misR"},"transform":[{"filter":"datum.e == 5"}],"layer":[
    {"data":{"values":[{}]},"mark":{"type":"rule","color":"#b3b3b3","strokeWidth":2},"encoding":{"x":{"datum":0.6},"y":{"datum":0},"y2":{"datum":0.3}}},
    {"data":{"values":[{}]},"mark":{"type":"rule","color":"#b3b3b3","strokeWidth":2},"encoding":{"x":{"datum":0.6},"x2":{"datum":25},"y":{"datum":0.3}}},
    {"mark":{"type":"line","color":"#c8c8c8","strokeWidth":4},"encoding":{"x":{"field":"p","type":"quantitative"},"y":{"field":"o","type":"quantitative"}}},
    {"mark":{"type":"line","color":"#00ee00","strokeWidth":2},"encoding":{"x":{"field":"p","type":"quantitative"},"y":{"field":"d","type":"quantitative"}}},
    {"mark":{"type":"line","color":"#a020f0","strokeWidth":2},"encoding":{"x":{"field":"p","type":"quantitative"},"y":{"field":"i","type":"quantitative"}}},
    {"mark":{"type":"line","color":"#0000ff","strokeWidth":4},"encoding":{"x":{"field":"p","type":"quantitative"},"y":{"field":"b","type":"quantitative"}}},
    {"mark":{"type":"line","color":"#ff0000","strokeWidth":4},"encoding":{"x":{"field":"p","type":"quantitative","scale":{"domain":[0.6,25],"nice":false,"zero":false},"axis":{"values":[1,2,3,4,5,6,7,8,9,10,11,12,13,14,15,16,17,18,19,20,21,22,23,24,25],"tickCount":100,"labelExpr":"'' + datum.value","title":null,"offset":3}},"y":{"field":"r","type":"quantitative","scale":{"domain":[0,0.3],"nice":false,"zero":false},"axis":{"orient":"left","offset":2,"values":[0,0.05,0.1,0.15,0.2,0.25,0.3],"tickCount":100,"format":".2f","title":"Frequency","titlePadding":4}}}}
  ]},
  {"width":232,"height":136,"data":{"name":"misR"},"transform":[{"filter":"datum.e == 3"}],"layer":[
    {"data":{"values":[{}]},"mark":{"type":"rule","color":"#b3b3b3","strokeWidth":2},"encoding":{"x":{"datum":-0.6},"y":{"datum":0},"y2":{"datum":0.3}}},
    {"data":{"values":[{}]},"mark":{"type":"rule","color":"#b3b3b3","strokeWidth":2},"encoding":{"x":{"datum":-25},"x2":{"datum":-0.6},"y":{"datum":0.3}}},
    {"mark":{"type":"line","color":"#c8c8c8","strokeWidth":4},"encoding":{"x":{"field":"p","type":"quantitative"},"y":{"field":"o","type":"quantitative"}}},
    {"mark":{"type":"line","color":"#00ee00","strokeWidth":2},"encoding":{"x":{"field":"p","type":"quantitative"},"y":{"field":"d","type":"quantitative"}}},
    {"mark":{"type":"line","color":"#a020f0","strokeWidth":2},"encoding":{"x":{"field":"p","type":"quantitative"},"y":{"field":"i","type":"quantitative"}}},
    {"mark":{"type":"line","color":"#0000ff","strokeWidth":4},"encoding":{"x":{"field":"p","type":"quantitative"},"y":{"field":"b","type":"quantitative"}}},
    {"mark":{"type":"line","color":"#ff0000","strokeWidth":4},"encoding":{"x":{"field":"p","type":"quantitative","scale":{"domain":[-25,-0.6],"nice":false,"zero":false},"axis":{"values":[-25,-24,-23,-22,-21,-20,-19,-18,-17,-16,-15,-14,-13,-12,-11,-10,-9,-8,-7,-6,-5,-4,-3,-2,-1],"tickCount":100,"labelExpr":"'' + datum.value","title":null,"offset":3}},"y":{"field":"r","type":"quantitative","scale":{"domain":[0,0.3],"nice":false,"zero":false},"axis":{"orient":"right","offset":5,"values":[0,0.05,0.1,0.15,0.2,0.25,0.3],"tickCount":100,"format":".2f","title":null}}}}
  ]}
]
}
]
}
